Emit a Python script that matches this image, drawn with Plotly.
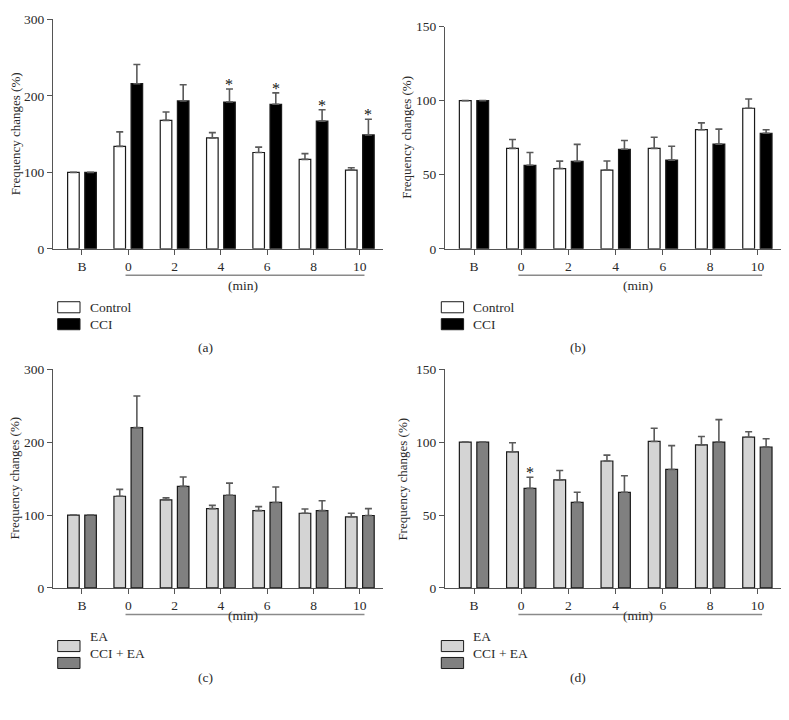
import plotly.graph_objects as go

W, H = 789, 720

categories = ["B", "0", "2", "4", "6", "8", "10"]

# Panel (a)
a_control = [100, 134, 168, 145, 126, 117, 103]
a_control_err = [0, 19, 11, 7, 7, 7.5, 3]
a_cci = [100, 216, 193.5, 192, 189, 167, 149]
a_cci_err = [0, 25, 21, 17, 15, 15, 20.5]
a_cci_sig = [False, False, False, True, True, True, True]

# Panel (b)
b_control = [100, 67.8, 54.2, 53.1, 67.8, 80.4, 94.9]
b_control_err = [0, 6, 5, 6.2, 7.5, 4.6, 6.2]
b_cci = [100, 56.4, 59, 67.2, 59.9, 70.7, 78]
b_cci_err = [0, 8.6, 11.5, 5.9, 9.3, 10.1, 2.4]
b_cci_sig = [False] * 7

# Panel (c)
c_ea = [100, 125.8, 120.9, 108.8, 106.1, 102.5, 97.6]
c_ea_err = [0, 9.4, 2.7, 4.5, 5.4, 5.9, 4.9]
c_ccea = [100, 219.9, 139.3, 127.2, 117.3, 106.1, 99.4]
c_ccea_err = [0, 43.4, 13, 16.6, 21.1, 13.5, 9.4]
c_ccea_sig = [False] * 7

# Panel (d)
d_ea = [100, 93.4, 74.1, 87.1, 100.5, 98.1, 103.4]
d_ea_err = [0, 6.2, 6.5, 4, 9, 5.8, 3.8]
d_ccea = [100, 68.3, 58.7, 65.6, 81.3, 100.1, 96.7]
d_ccea_err = [0, 7.6, 6.9, 11.4, 16.3, 15.4, 5.6]
d_ccea_sig = [False, True, False, False, False, False, False]

y_ticks_300 = [0, 100, 200, 300]
y_ticks_150 = [0, 50, 100, 150]

FONT = "Liberation Serif"
FS = 13.5
TXT = "#2a2a2a"
AXC = "#555555"

def px(x):
    return x / W

def py(y):
    return 1 - y / H

panels = [
    dict(name="a", s1=("Control", a_control, a_control_err, "#ffffff"),
         s2=("CCI", a_cci, a_cci_err, "#000000"), sig=a_cci_sig,
         ymax=300, yt=y_ticks_300, box=(53, 383, 12.7, 247), xr=(-0.626, 6.5),
         ox=0, oy=0),
    dict(name="b", s1=("Control", b_control, b_control_err, "#ffffff"),
         s2=("CCI", b_cci, b_cci_err, "#000000"), sig=b_cci_sig,
         ymax=150, yt=y_ticks_150, box=(445, 781, 20, 247), xr=(-0.614, 6.5),
         ox=392, oy=0),
    dict(name="c", s1=("EA", c_ea, c_ea_err, "#d4d4d4"),
         s2=("CCI + EA", c_ccea, c_ccea_err, "#808080"), sig=c_ccea_sig,
         ymax=300, yt=y_ticks_300, box=(53, 383, 370, 593.3), xr=(-0.626, 6.5),
         ox=0, oy=346),
    dict(name="d", s1=("EA", d_ea, d_ea_err, "#d4d4d4"),
         s2=("CCI + EA", d_ccea, d_ccea_err, "#808080"), sig=d_ccea_sig,
         ymax=150, yt=y_ticks_150, box=(445, 781, 370, 593.3), xr=(-0.614, 6.5),
         ox=392, oy=346),
]

fig = go.Figure()
shapes = []
annotations = []
xs = list(range(len(categories)))
BW = 0.25
OFF1, OFF2 = -0.31, 0.06

for i, p in enumerate(panels):
    k = "" if i == 0 else str(i + 1)
    xa, ya = "x" + k, "y" + k
    for (label, vals, errs, color), off in ((p["s1"], OFF1), (p["s2"], OFF2)):
        fig.add_trace(go.Bar(
            x=xs, y=vals, width=BW, offset=off, name=label, showlegend=False,
            marker=dict(color=color, line=dict(color="#1a1a1a", width=1.2)),
            error_y=dict(type="data", symmetric=False,
                         array=[e if e else None for e in errs],
                         arrayminus=[0] * len(errs),
                         color="#5a5a5a", thickness=1.6, width=3.5),
            xaxis=xa, yaxis=ya,
        ))
    # significance stars above the second series
    _, v2, e2, _ = p["s2"]
    for j, s in enumerate(p["sig"]):
        if s:
            annotations.append(dict(x=j + OFF2 + BW / 2, y=v2[j] + e2[j], xref=xa, yref=ya,
                                    text="*", showarrow=False, yanchor="bottom",
                                    yshift=-6, font=dict(family=FONT, size=16, color="#111111")))
    x0, x1, ytop, ybot = p["box"]
    fig.layout["xaxis" + k] = dict(domain=[px(x0), px(x1)], range=list(p["xr"]), tickvals=xs,
                    ticktext=categories, showline=True, linecolor=AXC, linewidth=1.3,
                    ticks="outside", ticklen=5, tickcolor=AXC, tickwidth=1.3,
                    showgrid=False, zeroline=False, anchor=ya,
                    tickfont=dict(family=FONT, size=FS, color=TXT))
    fig.layout["yaxis" + k] = dict(domain=[py(ybot), py(ytop)], range=[0, p["ymax"]], tickvals=p["yt"],
                    showline=True, linecolor=AXC, linewidth=1.3,
                    ticks="outside", ticklen=5, tickcolor=AXC, tickwidth=1.3,
                    showgrid=False, zeroline=False, anchor=xa,
                    tickfont=dict(family=FONT, size=FS, color=TXT))
    # y-axis title
    annotations.append(dict(x=px(15 + p["ox"] - (4 if p["name"] == "d" else 0)),
                            y=py((ytop + ybot) / 2),
                            xref="paper", yref="paper", text="Frequency changes (%)",
                            textangle=-90, showarrow=False, xanchor="center", yanchor="middle",
                            font=dict(family=FONT, size=13, color=TXT)))
    # (min) bracket line and label
    shapes.append(dict(type="line", xref=xa, yref="paper", x0=0.94, x1=6.1,
                       y0=py(ybot + 27), y1=py(ybot + 27),
                       line=dict(color="#8a8a8a", width=1.5)))
    annotations.append(dict(x=3.48, y=py(ybot + 37.5), xref=xa, yref="paper",
                            text="(min)", showarrow=False,
                            font=dict(family=FONT, size=FS, color=TXT)))
    # legend swatches
    ox, oy = p["ox"], p["oy"]
    lx0 = 57.7 + (ox - 8.4 if ox else 0)
    for r, (label, _, _, color) in enumerate((p["s1"], p["s2"])):
        top = 301 + oy + r * 17.3
        shapes.append(dict(type="rect", xref="paper", yref="paper",
                           x0=px(lx0), x1=px(lx0 + 22.3), y0=py(top + 11.3), y1=py(top),
                           fillcolor=color, line=dict(color="#1a1a1a", width=1)))
        annotations.append(dict(x=px(lx0 + 30), y=py(top + 5.6), xref="paper", yref="paper",
                                text=label, showarrow=False, xanchor="left",
                                font=dict(family=FONT, size=FS, color=TXT)))
    # panel caption
    annotations.append(dict(x=px(193 + ox + 3), y=py(348 + oy), xref="paper", yref="paper",
                            text="(" + p["name"] + ")", showarrow=False,
                            font=dict(family=FONT, size=FS, color=TXT)))

fig.update_layout(width=W, height=H, margin=dict(l=0, r=0, t=0, b=0),
                  plot_bgcolor="white", paper_bgcolor="white",
                  shapes=shapes, annotations=annotations, barmode="overlay",
                  font=dict(family=FONT, size=FS, color=TXT))
fig.write_html("out.html", config={"displayModeBar": False},
               post_script="document.body.style.margin='0';document.body.style.overflow='hidden';")
